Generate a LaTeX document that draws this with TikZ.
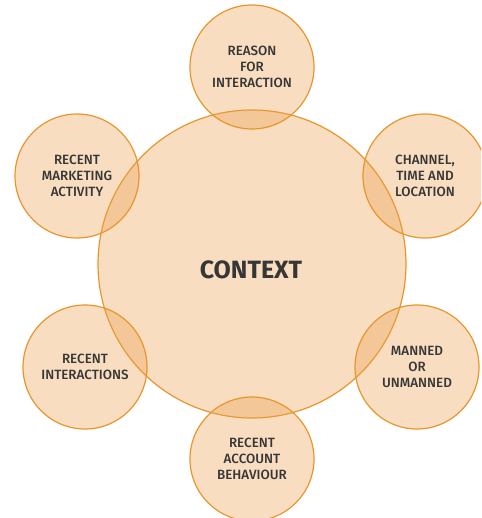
\documentclass[tikz,border=0pt]{standalone}
\usepackage{fontspec}
\setmainfont{Fira Sans}
\newfontfamily\labelfont{Fira Sans Medium}
\definecolor{ringorange}{HTML}{E8962C}
\definecolor{peach}{HTML}{EA9E4A}
\definecolor{labelgrey}{HTML}{363636}
\begin{document}
\begin{tikzpicture}[x=1pt,y=-1pt,
        bubble/.style={draw=ringorange, line width=1.2pt, circle, fill=peach, fill opacity=0.35,
            text opacity=1, text=labelgrey, minimum size=124pt, inner sep=0pt, align=center,
            font=\labelfont\fontsize{13.4}{16}\selectfont},
        hub/.style={bubble, minimum size=308pt}]
        \clip (0,0) rectangle (481,518);
        \useasboundingbox (0,0) rectangle (481,518);

        \node[hub] (context) at (252,264) {};
        \node[text=labelgrey, font=\fontsize{25}{30}\selectfont\bfseries] (title) at (251,270) {CONTEXT};

        \node[bubble] (reason) at (252,67) {REASON\\FOR\\INTERACTION};
        \node[bubble] (channel) at (425,176) {CHANNEL,\\TIME AND\\LOCATION};
        \node[bubble] (manned) at (417,367) {MANNED\\OR\\UNMANNED};
        \node[bubble] (account) at (252,459) {RECENT\\ACCOUNT\\BEHAVIOUR};
        \node[bubble] (interact) at (85,367) {RECENT\\INTERACTIONS};
        \node[bubble] (marketing) at (77,176) {RECENT\\MARKETING\\ACTIVITY};
    \end{tikzpicture}
\end{document}
